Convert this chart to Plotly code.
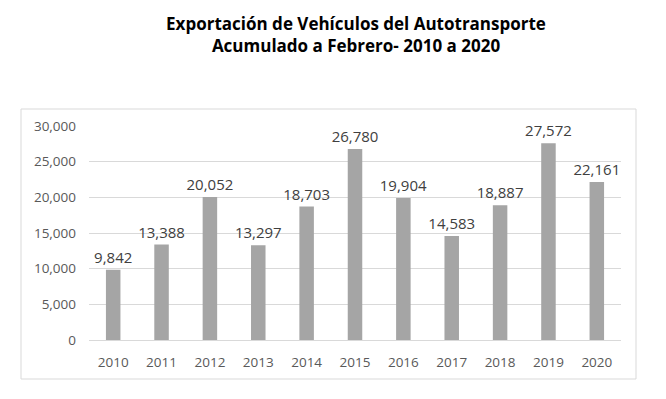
import plotly.graph_objects as go

years = ["2010", "2011", "2012", "2013", "2014", "2015", "2016", "2017", "2018", "2019", "2020"]
values = [9842, 13388, 20052, 13297, 18703, 26780, 19904, 14583, 18887, 27572, 22161]
y_ticks = [0, 5000, 10000, 15000, 20000, 25000, 30000]
y_tick_labels = ["0", "5,000", "10,000", "15,000", "20,000", "25,000", "30,000"]
title_lines = ["Exportación de Vehículos del Autotransporte", "Acumulado a Febrero- 2010 a 2020"]

# page body has an 8px margin; figure coordinates are offset by it
OFF = 8
W, H = 650, 383
L, T = 89 - OFF, 126 - OFF
R = W - (621 - OFF)
B = H - (340 - OFF)
pw, ph = W - L - R, H - T - B

def px_x(p):
    return (p - OFF - L) / pw

def px_y(p):
    return (H - B - (p - OFF)) / ph

FONT = "Open Sans"

fig = go.Figure(go.Bar(
    x=years, y=values,
    marker=dict(color="#a5a5a5", line=dict(width=0)),
    text=[f"{v:,}" for v in values],
    textposition="outside",
    constraintext="none",
    textfont=dict(color="#404040", size=15, family=FONT),
    cliponaxis=False,
))

fig.update_layout(
    width=W, height=H,
    margin=dict(l=L, r=R, t=T, b=B, autoexpand=False),
    paper_bgcolor="white", plot_bgcolor="white",
    bargap=0.7,
    showlegend=False,
    title=dict(
        text="<b>" + title_lines[0] + "<br>" + title_lines[1] + "</b>",
        x=(356 - OFF) / W, xref="container", xanchor="center",
        y=1 - 22 / H, yref="container", yanchor="middle",
        font=dict(size=17, color="#000000", family=FONT),
    ),
    xaxis=dict(
        showgrid=False, showline=False, ticks="",
        ticklabelstandoff=12,
        tickfont=dict(size=13.5, color="#595959", family=FONT),
    ),
    yaxis=dict(
        range=[0, 30000], tickvals=y_ticks, ticktext=y_tick_labels,
        showgrid=True, gridcolor="#d9d9d9", gridwidth=1,
        zeroline=True, zerolinecolor="#d9d9d9", zerolinewidth=1,
        showline=False, ticks="",
        ticklabelstandoff=12,
        tickfont=dict(size=13.5, color="#595959", family=FONT),
    ),
    shapes=[dict(
        type="rect", xref="paper", yref="paper",
        x0=px_x(21), x1=px_x(636), y0=px_y(379), y1=px_y(109),
        line=dict(color="#d9d9d9", width=1), fillcolor="rgba(0,0,0,0)",
        layer="below",
    )],
)

fig.write_html("out.html")
